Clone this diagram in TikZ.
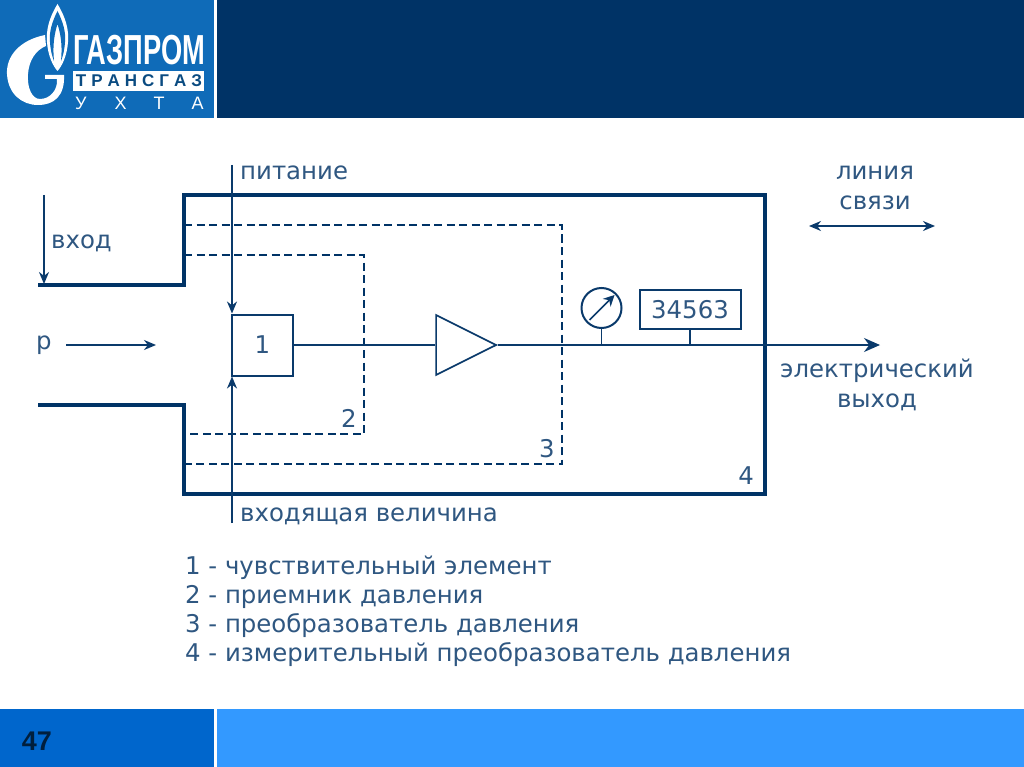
\documentclass[tikz,border=0pt]{standalone}
\usepackage{fontspec}
\setmainfont{DejaVu Sans}
\newfontfamily\logofont{Liberation Sans}
\usepackage{xcolor}
\usetikzlibrary{arrows.meta, positioning, shapes.geometric, calc}
\definecolor{navy}{HTML}{003366}
\definecolor{logoblue}{HTML}{0F6BB8}
\definecolor{barblue}{HTML}{0066CC}
\definecolor{lightbar}{HTML}{3399FF}
\definecolor{inkblue}{HTML}{0A3A6B}

\begin{document}
\begin{tikzpicture}[
  x=1pt, y=-1pt,
  wall/.style={draw=navy, line width=3.6pt, line join=miter},
  inner/.style={draw=navy, line width=1.9pt, dash pattern=on 8pt off 4.5pt},
  wire/.style={draw=inkblue, line width=1.7pt},
  msg/.style={wire, -{Stealth[length=12pt, width=10pt]}},
  bigmsg/.style={wire, -{Stealth[length=16pt, width=14pt]}},
  lbl/.style={font=\fontsize{24.4}{29}\selectfont, text=inkblue!85, inner sep=0pt},
  block/.style={draw=inkblue, line width=2pt, fill=white, inner sep=0pt},
  legend/.style={lbl, anchor=west}
]
  \useasboundingbox (0,0) rectangle (1024,767);
  \fill[white] (0,0) rectangle (1024,767);

  % Header and footer bars
  \fill[logoblue] (0,0) rectangle (214,118);
  \fill[navy] (217,0) rectangle (1024,118);
  \fill[barblue] (0,709) rectangle (214,767);
  \fill[lightbar] (217,709) rectangle (1024,767);
  \node[font=\logofont\bfseries\fontsize{27}{30}\selectfont, text=navy!60!black, inner sep=0pt] (page) at (37,741) {47};

  % Logo
  \fill[white] (57.5,4) .. controls (49,18) and (46,30) .. (47,42) .. controls (48,56) and (53,66) .. (57.5,71) .. controls (62,66) and (67,56) .. (68,42) .. controls (69,30) and (66,18) .. (57.5,4) -- cycle;
  \fill[logoblue] (57.5,11) .. controls (52,22) and (49,32) .. (50,42) .. controls (50.5,50) and (52,56) .. (54,61) .. controls (53,50) and (53,38) .. (57.5,24) .. controls (62,38) and (62,50) .. (61,61) .. controls (63,56) and (64.5,50) .. (65,42) .. controls (66,32) and (63,22) .. (57.5,11) -- cycle;
  \fill[white] (57.5,34) .. controls (55,44) and (55,56) .. (57.5,66) .. controls (60,56) and (60,44) .. (57.5,34) -- cycle;
  \fill[white] (45,35) .. controls (20,40) and (6,56) .. (7,74) .. controls (8,94) and (22,105) .. (38,105) .. controls (54,105) and (65,96) .. (64,75) -- (45,75) -- (45,79) -- (57,79) .. controls (58,90) and (50,99) .. (40,99) .. controls (32,99) and (27,88) .. (28,74) .. controls (29,60) and (36,50) .. (46,46) -- cycle;
  \node[font=\logofont\bfseries\fontsize{42}{44}\selectfont, text=white, inner sep=0pt, xscale=0.65, anchor=west] (gazprom) at (73,50) {ГАЗПРОМ};
  \fill[white] (73,71) rectangle (204,91);
  \node[font=\logofont\bfseries\fontsize{17}{19}\selectfont, text=logoblue!70!black, inner sep=0pt] (transgaz) at (139,81) {Т\hspace{5pt}Р\hspace{5pt}А\hspace{5pt}Н\hspace{5pt}С\hspace{5pt}Г\hspace{5pt}А\hspace{5pt}З};
  \node[font=\logofont\fontsize{18}{20}\selectfont, text=white, inner sep=0pt, anchor=west] (ukhta) at (75,103) {У\hspace{28pt}Х\hspace{27pt}Т\hspace{27pt}А};

  % Enclosure 4
  \draw[wall] (38,285) -- (184,285) -- (184,195) -- (765,195) -- (765,494) -- (184,494) -- (184,405) -- (38,405);

  % Dashed frames
  \draw[inner] (184,225) -- (562,225) -- (562,464) -- (184,464);
  \draw[inner] (184,255) -- (364,255) -- (364,434) -- (184,434);

  % Blocks
  \node[block, minimum width=61pt, minimum height=61pt, font=\fontsize{24.4}{29}\selectfont, text=inkblue!85] (sensor) at (262.5,345) {1};
  \node[draw=inkblue, line width=1.7pt, fill=white, isosceles triangle, isosceles triangle apex angle=53, minimum height=60pt, inner sep=0pt, anchor=apex] (amp) at (498,345) {};
  \coordinate (gaugepos) at (601.5,308);
  \coordinate (displaypos) at (690,309.5);
  \coordinate (gaugetap) at (601.5,345);
  \coordinate (displaytap) at (690,345);
  \coordinate (outend) at (880,345);

  % Signal line
  \draw[wire] (sensor) -- (amp.west |- sensor);
  \draw[bigmsg] (amp.apex) -- (outend);
  \draw[wire] (gaugepos) -- (gaugetap);
  \draw[wire] (displaypos) -- (displaytap);
  \node[circle, block, minimum size=40pt] (gauge) at (gaugepos) {};
  \node[block, minimum width=101pt, minimum height=39pt, font=\fontsize{24.4}{29}\selectfont, text=inkblue!85] (display) at (displaypos) {34563};
  \draw[wire, -{Stealth[length=11pt, width=11pt]}] ([shift={(-12,12)}]gauge.center) -- ([shift={(13,-13)}]gauge.center);

  % Feeds
  \coordinate (powertop) at (232,165);
  \coordinate (inputtop) at (44,195);
  \coordinate (inputend) at (44,284);
  \coordinate (pstart) at (66,345);
  \coordinate (pend) at (156,345);
  \coordinate (quantity) at (232,523);
  \coordinate (linkleft) at (809,226);
  \coordinate (linkright) at (935,226);
  \draw[msg] (powertop) -- (powertop |- sensor.north);
  \draw[msg] (inputtop) -- (inputend);
  \draw[msg] (pstart) -- (pend);
  \draw[msg] (quantity) -- (quantity |- sensor.south);
  \draw[msg, {Stealth[length=12pt, width=10pt]}-{Stealth[length=12pt, width=10pt]}] (linkleft) -- (linkright);

  % Labels
  \node[lbl, anchor=west] (power) at (240,173) {питание};
  \node[lbl, anchor=west] (inlabel) at (51,243) {вход};
  \node[lbl, anchor=west] (plabel) at (36,345) {p};
  \node[lbl, anchor=west] (qlabel) at (240,516) {входящая величина};
  \node[lbl, align=center, font=\fontsize{24.4}{29.5}\selectfont] (link) at (875,188) {линия\\связи};
  \node[lbl, align=center, font=\fontsize{24.4}{29.5}\selectfont] (elout) at (877,385) {электрический\\выход};
  \node[lbl] (num2) at (349,418) {2};
  \node[lbl] (num3) at (547,449) {3};
  \node[lbl] (num4) at (746,476) {4};

  % Legend
  \node[legend] (leg1) at (185,568) {1 - чувствительный элемент};
  \node[legend] (leg2) at (185,597) {2 - приемник давления};
  \node[legend] (leg3) at (185,626) {3 - преобразователь давления};
  \node[legend] (leg4) at (185,655) {4 - измерительный преобразователь давления};
\end{tikzpicture}
\end{document}
